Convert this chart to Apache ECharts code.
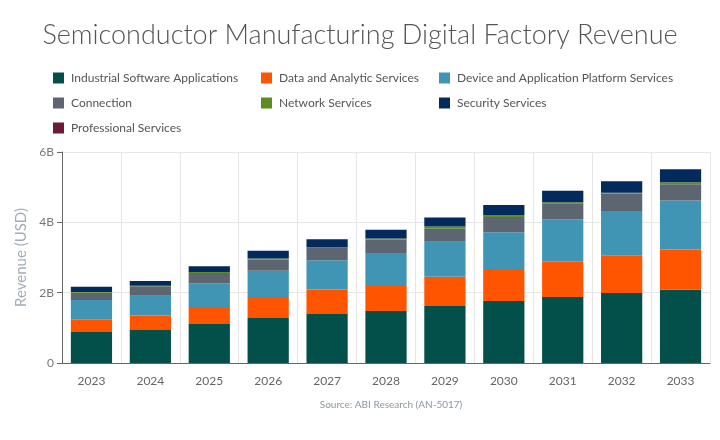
<!DOCTYPE html>
<html>
<head>
<meta charset="utf-8">
<script src="https://cdn.jsdelivr.net/npm/echarts@6/dist/echarts.min.js"></script>
<style>
  html, body { margin: 0; padding: 0; background: #fff; }
  #chart { width: 720px; height: 440px; }
</style>
</head>
<body>
<div id="chart"></div>
<script>
// revenue in billions USD
var years = ['2023', '2024', '2025', '2026', '2027', '2028', '2029', '2030', '2031', '2032', '2033'];
var industrial = [0.88, 0.94, 1.11, 1.28, 1.39, 1.48, 1.62, 1.76, 1.88, 1.99, 2.08];
var dataAnalytic = [0.35, 0.41, 0.48, 0.60, 0.70, 0.74, 0.83, 0.91, 1.01, 1.06, 1.15];
var devicePlatform = [0.56, 0.56, 0.68, 0.74, 0.83, 0.91, 1.00, 1.05, 1.19, 1.27, 1.39];
var connection = [0.21, 0.27, 0.29, 0.32, 0.35, 0.38, 0.37, 0.43, 0.46, 0.50, 0.46];
var network = [0.02, 0.02, 0.03, 0.03, 0.03, 0.03, 0.06, 0.06, 0.03, 0.02, 0.06];
var security = [0.15, 0.13, 0.16, 0.22, 0.22, 0.25, 0.26, 0.28, 0.33, 0.33, 0.37];
var professional = [0, 0, 0, 0, 0, 0, 0, 0, 0, 0, 0];

var names = ['Industrial Software Applications', 'Data and Analytic Services', 'Device and Application Platform Services',
  'Connection', 'Network Services', 'Security Services', 'Professional Services'];
var colors = ['#03504a', '#ff5500', '#4095b5', '#5d6670', '#5e8c1e', '#022a5c', '#6e1a37'];
var values = [industrial, dataAnalytic, devicePlatform, connection, network, security, professional];

var font = 'Lato, "Open Sans", sans-serif';
let chart = echarts.init(document.getElementById('chart'));

function legendCol(left, items) {
  return {
    left: left, top: 67, orient: 'vertical',
    icon: 'rect', itemWidth: 11, itemHeight: 11, itemGap: 13,
    selectedMode: false,
    textStyle: { color: '#555', fontSize: 12, fontFamily: font, padding: [0, 0, 0, 2] },
    data: items
  };
}

let option = {
  animation: false,
  color: colors,
  title: [{
    text: 'Semiconductor Manufacturing Digital Factory Revenue',
    left: 'center', top: 17,
    textStyle: { fontFamily: font, fontWeight: 300, fontSize: 27, color: '#555' }
  }, {
    text: 'Source: ABI Research (AN-5017)',
    left: 386, top: 395, textAlign: 'center',
    textStyle: { fontFamily: font, fontWeight: 'normal', fontSize: 10, color: '#8a96a3' }
  }],
  legend: [
    legendCol(48, [names[0], names[3], names[6]]),
    legendCol(256, [names[1], names[4]]),
    legendCol(434, [names[2], names[5]])
  ],
  grid: { left: 62, right: 10, top: 152, bottom: 77 },
  xAxis: {
    type: 'category',
    data: years,
    axisLine: { lineStyle: { color: '#666' } },
    axisTick: { length: 5, lineStyle: { color: '#666' } },
    axisLabel: { color: '#666', fontSize: 12, fontFamily: font, margin: 12 },
    splitLine: { show: true, lineStyle: { color: '#e6e6e6' } }
  },
  yAxis: {
    type: 'value',
    min: 0, max: 6, interval: 2,
    name: 'Revenue (USD)',
    nameLocation: 'middle', nameGap: 33,
    nameTextStyle: { color: '#a3adb8', fontSize: 15, fontFamily: font },
    axisLine: { show: true, lineStyle: { color: '#666' } },
    axisTick: { show: true, length: 5, lineStyle: { color: '#666' } },
    axisLabel: {
      color: '#777', fontSize: 12, fontFamily: font, margin: 8,
      formatter: function (v) { return v === 0 ? '0' : v + 'B'; }
    },
    splitLine: { lineStyle: { color: '#e6e6e6' } }
  },
  series: names.map(function (n, i) {
    return {
      name: n, type: 'bar', stack: 'rev', barWidth: '70%',
      itemStyle: { color: colors[i] },
      data: values[i]
    };
  })
};

chart.setOption(option);
</script>
</body>
</html>
